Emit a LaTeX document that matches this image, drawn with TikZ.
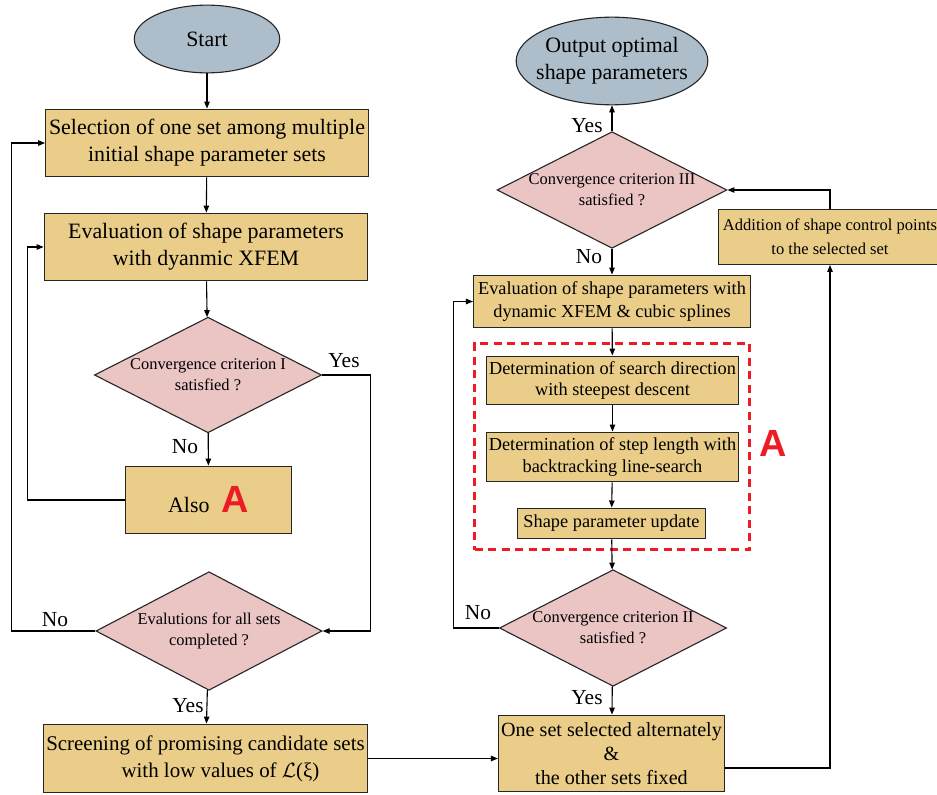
\documentclass[tikz,border=0pt]{standalone}
\usepackage{fontspec}
\setmainfont{Liberation Serif}
\newfontfamily\markfont{Liberation Sans}
\usetikzlibrary{arrows.meta,shapes.geometric}
\definecolor{sand}{RGB}{234,205,136}
\definecolor{blush}{RGB}{235,196,196}
\definecolor{slate}{RGB}{173,189,201}
\definecolor{signal}{RGB}{237,28,36}
\newcommand\markstyle{\markfont\bfseries\fontsize{38}{38}\selectfont}
\newcommand\redA{{\markstyle\color{signal}A}}
\tikzset{
  >={Triangle[length=7bp,width=5.5bp]},
  proc/.style={draw=black!85,fill=sand,line width=1.1bp,inner sep=0pt,align=center,
    font=\fontsize{22}{27}\selectfont},
  proc small/.style={proc,font=\fontsize{18.4}{22}\selectfont},
  decision/.style={diamond,aspect=1.97,draw=black!85,fill=blush,line width=1.1bp,inner sep=0pt,
    align=center,font=\fontsize{16.5}{21}\selectfont},
  terminal/.style={ellipse,draw=black!85,fill=slate,line width=1.1bp,inner sep=0pt,
    align=center,font=\fontsize{22}{27}\selectfont},
  flow/.style={->,line width=1.1bp,draw=black},
  answer/.style={font=\fontsize{21.5}{21.5}\selectfont,inner sep=0pt},
  bigA/.style={inner sep=0pt,text=signal,font=\markstyle},
  frameA/.style={draw=signal,line width=3.2bp,dash pattern=on 8bp off 5.5bp,inner sep=0pt},
}
\begin{document}
\begin{tikzpicture}[x=1bp,y=-1bp]
  \useasboundingbox (0,0) rectangle (937,795);
  % left column
  \node[terminal,minimum width=146,minimum height=68] (start) at (207,39) {Start};
  \node[proc,minimum width=324,minimum height=68] (sel) at (207,143)
    {Selection of one set among multiple\\initial shape parameter sets};
  \node[proc,minimum width=325,minimum height=68] (evalA) at (206,247)
    {Evaluation of shape parameters\\with dyanmic XFEM};
  \node[decision,minimum width=228,minimum height=116] (critI) at (208,375)
    {Convergence criterion I\\satisfied ?};
  \node[proc,minimum width=167,minimum height=68] (also) at (208.5,500)
    {Also\hspace{12bp}\redA};
  \node[decision,minimum width=227,minimum height=119] (allsets) at (209,631)
    {Evalutions for all sets\\completed ?};
  \node[proc,minimum width=325,minimum height=69,font=\fontsize{21}{27}\selectfont] (screen) at (205.5,758.5)
    {Screening of promising candidate sets\\\hspace*{30bp}with low values of $\mathcal{L}$(ξ)};
  % right column
  \node[terminal,minimum width=191,minimum height=88,inner xsep=-8bp] (out) at (612,61)
    {Output optimal\\shape parameters};
  \node[decision,minimum width=229,minimum height=115] (critIII) at (612,190)
    {Convergence criterion III\\satisfied ?};
  \node[proc,minimum width=224,minimum height=55,font=\fontsize{16.6}{24}\selectfont] (addpts) at (830,237)
    {Addition of shape control points\\to the selected set};
  \node[proc,minimum width=278,minimum height=53,font=\fontsize{18.4}{24}\selectfont] (evalB) at (612,301.5)
    {Evaluation of shape parameters with\\dynamic XFEM \& cubic splines};
  \node[frameA,minimum width=276,minimum height=207] (grpA) at (612,446.5) {};
  \node[proc small,minimum width=253,minimum height=49] (dir) at (612.5,380.5)
    {Determination of search direction\\with steepest descent};
  \node[proc small,minimum width=253,minimum height=50] (len) at (612.5,457)
    {Determination of step length with\\backtracking line-search};
  \node[proc small,minimum width=189,minimum height=31] (upd) at (611.5,523.5)
    {Shape parameter update};
  \node[bigA] (markA) at (773,443) {A};
  \node[decision,minimum width=228,minimum height=117] (critII) at (613,628)
    {Convergence criterion II\\satisfied ?};
  \node[proc,minimum width=227,minimum height=77,font=\fontsize{20.2}{24}\selectfont] (one) at (611.5,753.5)
    {One set selected alternately\\\&\\the other sets fixed};
  % answers
  \node[answer] (yesI) at (344,361) {Yes};
  \node[answer] (noI) at (185,447) {No};
  \node[answer] (noAll) at (55,620) {No};
  \node[answer] (yesAll) at (188,706) {Yes};
  \node[answer] (yesIII) at (587,126) {Yes};
  \node[answer] (noIII) at (589,257) {No};
  \node[answer] (noII) at (478,613) {No};
  \node[answer] (yesII) at (587,698) {Yes};
  % connectors
  \draw[flow] (start) -- (sel);
  \draw[flow] (sel) -- (evalA);
  \draw[flow] (evalA) -- (critI);
  \draw[flow] (critI) -- (also);
  \draw[flow] (also.west) -- ++(-97,0) |- (evalA.west);
  \draw[flow] (critI.east) -- ++(48,0) |- (allsets.east);
  \draw[flow] (allsets.west) -- ++(-84,0) |- (sel.west);
  \draw[flow] (allsets) -- (screen);
  \draw[flow] (screen.east) -- (screen.east -| one.west);
  \draw[flow] ([yshift=-14.5bp]one.east) -| (addpts.south);
  \draw[flow] (addpts.north) |- (critIII.east);
  \draw[flow] (critIII) -- (out);
  \draw[flow] (critIII) -- (evalB);
  \draw[flow] (evalB) -- (dir);
  \draw[flow] (dir) -- (len);
  \draw[flow] (len) -- (upd);
  \draw[flow] (upd) -- (critII);
  \draw[flow] (critII.west) -- ++(-45,0) |- (evalB.west);
  \draw[flow] (critII) -- (one);
\end{tikzpicture}
\end{document}
